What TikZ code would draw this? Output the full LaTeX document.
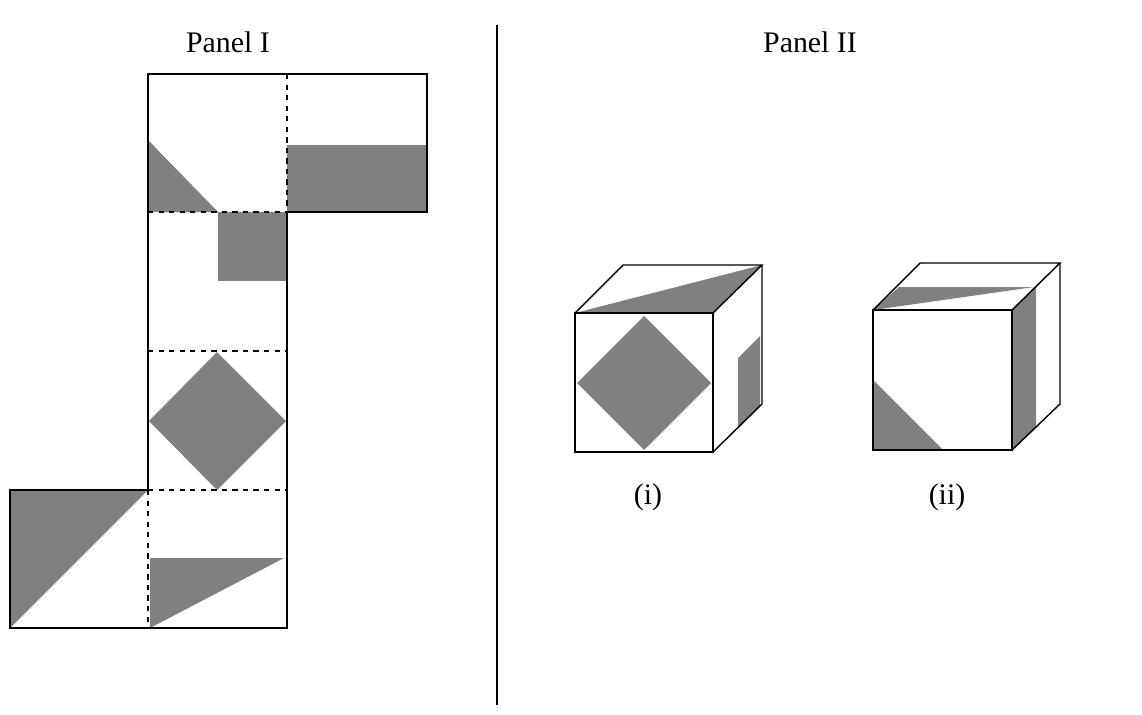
\documentclass[tikz,border=0pt]{standalone}
\usepackage{fontspec}
\setmainfont{Liberation Serif}
\definecolor{shade}{gray}{0.5}
\def\s{0.02}
\def\punkt#1#2{({(#1)*\s},{-(#2)*\s})}

\begin{document}
\begin{tikzpicture}[thick]
\useasboundingbox \punkt{0}{0} rectangle \punkt{1142}{715};
\tikzset{fold/.style={dashed,line width=1.4pt}}
% Panel I: net
\fill[color=shade] \punkt{148}{140} -- \punkt{148}{212} -- \punkt{218}{212} -- cycle;
\fill[color=shade] \punkt{287}{145} rectangle \punkt{427}{212};
\fill[color=shade] \punkt{218}{212} rectangle \punkt{287}{281};
\fill[color=shade] \punkt{217}{352} -- \punkt{286}{421} -- \punkt{217}{490} -- \punkt{149}{421} -- cycle;
\fill[color=shade] \punkt{10}{490} -- \punkt{148}{490} -- \punkt{10}{628} -- cycle;
\fill[color=shade] \punkt{150}{558} -- \punkt{284}{558} -- \punkt{150}{628} -- cycle;
\draw \punkt{148}{74} -- \punkt{427}{74} -- \punkt{427}{212} -- \punkt{287}{212}
  -- \punkt{287}{628} -- \punkt{10}{628} -- \punkt{10}{490} -- \punkt{148}{490}
  -- cycle;
\draw[fold] \punkt{287}{74} -- \punkt{287}{212};
\foreach \y in {212,351,490}{
	\draw[fold] \punkt{148}{\y} -- \punkt{287}{\y};
}
\draw[fold] \punkt{148}{490} -- \punkt{148}{628};
\node (t1) at \punkt{228}{42} {\fontsize{17}{20}\selectfont Panel I};
% divider
\draw[line width=1.6pt] \punkt{497}{25} -- \punkt{497}{705};
\node (t2) at \punkt{810}{42} {\fontsize{17}{20}\selectfont Panel II};
% cube (i)
\fill[color=shade] \punkt{575}{313} -- \punkt{762}{265} -- \punkt{713}{313} -- cycle;
\fill[color=shade] \punkt{644}{316} -- \punkt{711}{383} -- \punkt{644}{450} -- \punkt{577}{383} -- cycle;
\fill[color=shade] \punkt{738}{358} -- \punkt{760}{336} -- \punkt{760}{405} -- \punkt{738}{427} -- cycle;
\draw \punkt{575}{313} rectangle \punkt{713}{452};
\draw \punkt{575}{313} -- \punkt{623}{265} -- \punkt{762}{265} -- \punkt{713}{313};
\draw \punkt{762}{265} -- \punkt{762}{404} -- \punkt{713}{452};
\node (c1) at \punkt{648}{497} {\fontsize{17}{20}\selectfont (i)};
% cube (ii)
\fill[color=shade] \punkt{873}{310} -- \punkt{899}{287} -- \punkt{1034}{287} -- cycle;
\fill[color=shade] \punkt{1012}{310} -- \punkt{1036}{287} -- \punkt{1036}{427} -- \punkt{1012}{450} -- cycle;
\fill[color=shade] \punkt{873}{380} -- \punkt{873}{450} -- \punkt{943}{450} -- cycle;
\draw \punkt{873}{310} rectangle \punkt{1012}{450};
\draw \punkt{873}{310} -- \punkt{920}{263} -- \punkt{1060}{263} -- \punkt{1012}{310};
\draw \punkt{1060}{263} -- \punkt{1060}{404} -- \punkt{1012}{450};
\node (c2) at \punkt{947}{497} {\fontsize{17}{20}\selectfont (ii)};
\end{tikzpicture}
\end{document}
